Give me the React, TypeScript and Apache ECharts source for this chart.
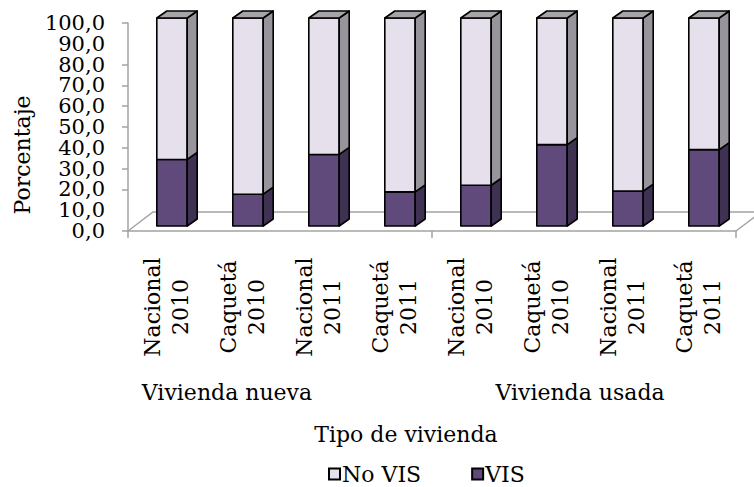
import React, { useEffect, useRef } from "react";
import * as echarts from "echarts";

const categories = [
  "Nacional 2010",
  "Caquetá 2010",
  "Nacional 2011",
  "Caquetá 2011",
  "Nacional 2010",
  "Caquetá 2010",
  "Nacional 2011",
  "Caquetá 2011",
];
const groups = ["Vivienda nueva", "Vivienda usada"];
const visValues = [32.0, 15.3, 34.4, 16.4, 19.6, 39.1, 16.8, 36.7];
const noVisValues = [68.0, 84.7, 65.6, 83.6, 80.4, 60.9, 83.2, 63.3];
const yTicks = { min: 0, max: 100, interval: 10 };

const FONT = "DejaVu Serif";
const AXIS_GRAY = "#a3a3a3";
const DX = 10; // bar depth offset x
const DY = -7; // bar depth offset y
const OX = 6; // front face offset from axis plane
const OY = -5;
const FX = 25; // floor depth
const FY = -19;

const fmt = (v: number) => v.toFixed(1).replace(".", ",");

function barRenderer(front: string, side: string, top: string) {
  return (params: any, api: any) => {
    const cat = api.value(0);
    const s = api.value(1);
    const e = api.value(2);
    const p0 = api.coord([cat, s]);
    const p1 = api.coord([cat, e]);
    const bw = api.size([1, 0])[0] * 0.4;
    const cx = p0[0] + OX;
    const xl = cx - bw / 2;
    const xr = cx + bw / 2;
    const yb = p0[1] + OY;
    const yt = p1[1] + OY;
    const stroke = { stroke: "#000", lineWidth: 1.6, lineJoin: "round" };
    const children: any[] = [
      {
        type: "polygon",
        shape: { points: [[xl, yb], [xr, yb], [xr, yt], [xl, yt]] },
        style: { fill: front, ...stroke },
      },
      {
        type: "polygon",
        shape: { points: [[xr, yb], [xr + DX, yb + DY], [xr + DX, yt + DY], [xr, yt]] },
        style: { fill: side, ...stroke },
      },
    ];
    if (e >= 99.9) {
      children.push({
        type: "polygon",
        shape: { points: [[xl, yt], [xr, yt], [xr + DX, yt + DY], [xl + DX, yt + DY]] },
        style: { fill: top, ...stroke },
      });
    }
    return { type: "group", children };
  };
}

export default function App() {
  const ref = useRef<HTMLDivElement>(null);
  useEffect(() => {
    if (!ref.current) return;
    const chart = echarts.init(ref.current, undefined, { renderer: "svg" });
    const visData = visValues.map((v, i) => [i, 0, v]);
    const noVisData = noVisValues.map((v, i) => [i, visValues[i], visValues[i] + v]);
    const yLabelBase = {
      margin: 23,
      hideOverlap: false,
      fontFamily: FONT,
      fontSize: 21,
      lineHeight: 16,
      color: "#000",
    };
    chart.setOption({
      animation: false,
      backgroundColor: "#fff",
      textStyle: { fontFamily: FONT, color: "#000" },
      grid: { left: 128, top: 23, width: 608, height: 208, outerBoundsMode: "none", containLabel: false },
      legend: {
        data: ["No VIS", "VIS"],
        left: 328,
        top: 463,
        icon: "rect",
        itemWidth: 11,
        itemHeight: 11,
        itemGap: 50,
        padding: 0,
        textStyle: { fontFamily: FONT, fontSize: 22, lineHeight: 22, color: "#000", padding: [0, 0, 0, -3] },
      },
      xAxis: [
        {
          type: "category",
          data: categories,
          position: "bottom",
          boundaryGap: true,
          axisLine: { show: true, lineStyle: { color: AXIS_GRAY, width: 1.5 } },
          axisTick: { show: false },
          splitLine: { show: false },
          axisLabel: {
            interval: 0,
            rotate: 90,
            align: "center",
            verticalAlign: "middle",
            margin: 76,
            fontFamily: FONT,
            fontSize: 22,
            lineHeight: 28,
            color: "#000",
            formatter: (v: string) => v.replace(" ", "\n"),
          },
          name: "Tipo de vivienda",
          nameLocation: "middle",
          nameGap: 192,
          nameTextStyle: { fontFamily: FONT, fontSize: 22, color: "#000", padding: [0, 52, 0, 0] },
        },
        {
          type: "category",
          data: groups,
          position: "bottom",
          offset: 0,
          boundaryGap: true,
          axisLine: { show: false },
          axisTick: { show: true, length: 7, lineStyle: { color: AXIS_GRAY, width: 1.5 } },
          splitLine: { show: false },
          axisLabel: {
            interval: 0,
            margin: 150,
            fontFamily: FONT,
            fontSize: 22,
            color: "#000",
            formatter: (v: string, i: number) => (i === 0 ? "{a|" + v + "}" : "{b|" + v + "}"),
            rich: {
              a: { fontFamily: FONT, fontSize: 22, color: "#000", padding: [0, 106, 0, 0] },
              b: { fontFamily: FONT, fontSize: 22, color: "#000", padding: [0, 8, 0, 0] },
            },
          },
        },
      ],
      yAxis: [
        {
          type: "value",
          position: "left",
          min: yTicks.min,
          max: yTicks.max,
          interval: yTicks.interval,
          axisLine: { show: true, lineStyle: { color: AXIS_GRAY, width: 1.5 } },
          axisTick: { show: true, inside: false, length: 6, lineStyle: { color: AXIS_GRAY, width: 1.5 } },
          splitLine: { show: false },
          axisLabel: {
            ...yLabelBase,
            showMinLabel: true,
            showMaxLabel: true,
            formatter: fmt,
          },
          name: "Porcentaje",
          nameLocation: "middle",
          nameRotate: 90,
          nameGap: 94,
          nameTextStyle: { fontFamily: FONT, fontSize: 22, color: "#000", padding: [0, 56, 0, 0] },
        },
        {
          type: "value",
          position: "left",
          offset: 0,
          min: yTicks.min,
          max: yTicks.max,
          interval: yTicks.interval,
          axisLine: { show: false },
          axisTick: { show: false },
          splitLine: { show: false },
          axisLabel: {
            ...yLabelBase,
            showMinLabel: false,
            showMaxLabel: false,
            formatter: (v: number) =>
              v === yTicks.min + yTicks.interval || v === yTicks.max - yTicks.interval ? fmt(v) : "",
          },
        },
      ],
      series: [
        {
          type: "custom",
          name: "floor",
          silent: true,
          clip: false,
          data: [[0, 0, 0]],
          encode: { x: 0, y: 1 },
          renderItem: (params: any, api: any) => {
            const cs = params.coordSys;
            const x0 = cs.x;
            const y0 = cs.y + cs.height;
            const x1 = cs.x + cs.width;
            const style = { stroke: AXIS_GRAY, lineWidth: 1.5, fill: "none" };
            return {
              type: "group",
              children: [
                {
                  type: "polyline",
                  shape: { points: [[x0, y0], [x0 + FX, y0 + FY], [x1 + FX, y0 + FY]] },
                  style,
                },
                {
                  type: "line",
                  shape: { x1: x1, y1: y0, x2: x1 + FX, y2: y0 + FY },
                  style,
                },
              ],
            };
          },
          z: 1,
        },
        {
          type: "custom",
          name: "VIS",
          data: visData,
          encode: { x: 0, y: [1, 2] },
          itemStyle: { color: "#604a7b", borderColor: "#000", borderWidth: 1.5 },
          renderItem: barRenderer("#604a7b", "#3f3152", "#504064"),
          clip: false,
          z: 2,
        },
        {
          type: "custom",
          name: "No VIS",
          data: noVisData,
          encode: { x: 0, y: [1, 2] },
          itemStyle: { color: "#e5e0ec", borderColor: "#000", borderWidth: 1.5 },
          renderItem: barRenderer("#e5e0ec", "#97949c", "#a6a4a9"),
          clip: false,
          z: 3,
        },
      ],
    });
    return () => chart.dispose();
  }, []);
  return (
    <div
      ref={ref}
      style={{ position: "fixed", left: 0, top: 0, width: 754, height: 487, background: "#fff" }}
    />
  );
}
